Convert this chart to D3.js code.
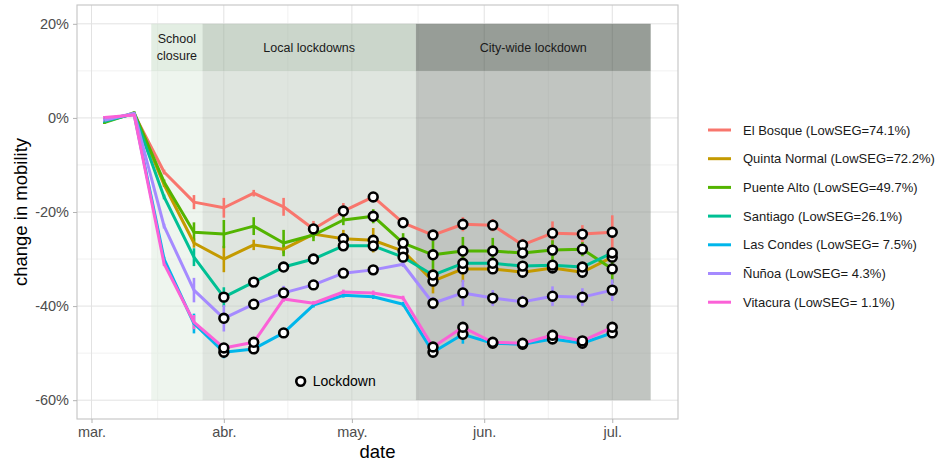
<!DOCTYPE html>
<html>
<head>
<meta charset="utf-8">
<script src="https://cdn.jsdelivr.net/npm/d3@7"></script>
<style>
  body { margin: 0; background: #fff; }
  svg { display: block; font-family: "Liberation Sans", Arial, sans-serif; }
</style>
</head>
<body>
<svg id="chart" width="939" height="463"></svg>
<script>
// Weekly observation dates (2020)
const weeks = ["2020-03-04","2020-03-11","2020-03-18","2020-03-25","2020-04-01","2020-04-08",
  "2020-04-15","2020-04-22","2020-04-29","2020-05-06","2020-05-13","2020-05-20",
  "2020-05-27","2020-06-03","2020-06-10","2020-06-17","2020-06-24","2020-07-01"];

// Communes, legend labels and colours
const communes = ["El Bosque","Quinta Normal","Puente Alto","Santiago","Las Condes","Ñuñoa","Vitacura"];
const lowSEG = ["74.1%","72.2%","49.7%","26.1%"," 7.5%"," 4.3%"," 1.1%"];
const colors = ["#F8766D","#C49A00","#53B400","#00C094","#00B6EB","#A58AFF","#FB61D7"];

// Change in mobility (%) per week
const elBosque     = [-0.3, 0.8, -11.5, -17.9, -19.1, -16.0, -18.9, -23.6, -19.8, -16.8, -22.3, -24.9, -22.6, -22.8, -27.0, -24.5, -24.7, -24.3];
const quintaNormal = [-0.6, 0.9, -14.2, -26.6, -30.0, -27.0, -27.9, -24.7, -25.7, -26.0, -28.3, -34.7, -32.1, -32.1, -32.8, -31.9, -32.8, -29.6];
const puenteAlto   = [-1.0, 1.1, -13.6, -24.3, -24.7, -23.0, -26.6, -24.9, -21.7, -20.9, -26.6, -29.1, -28.3, -28.3, -28.7, -28.1, -27.9, -32.1];
const santiago     = [-0.8, 0.9, -16.8, -29.6, -38.1, -34.9, -31.7, -30.0, -27.2, -27.2, -29.6, -33.4, -30.9, -30.9, -31.5, -31.3, -31.7, -28.7];
const lasCondes    = [-0.2, 0.7, -30.0, -43.7, -49.8, -49.1, -45.7, -39.8, -37.7, -38.0, -39.6, -49.8, -46.0, -47.9, -48.1, -47.0, -47.9, -45.7];
const nunoa        = [-0.5, 1.0, -23.0, -36.6, -42.6, -39.6, -37.2, -35.5, -33.0, -32.3, -31.1, -39.4, -37.2, -38.3, -39.1, -37.9, -38.1, -36.6];
const vitacura     = [ 0.1, 0.6, -31.0, -43.4, -48.9, -47.7, -38.5, -39.4, -37.0, -37.2, -38.3, -48.7, -44.5, -47.7, -47.9, -46.2, -47.4, -44.5];

// Half-width of the uncertainty interval (percentage points)
const elBosqueErr     = [0.3,0.3,0.5,1.5,2.1,0.7,1.9,1.7,1.7,0.8,1.1,0.8,1.5,1.3,1.3,2.5,1.9,3.6];
const quintaNormalErr = [0.3,0.3,0.5,1.0,2.8,1.1,0.9,0.8,1.9,2.6,1.5,2.6,2.8,1.0,0.8,0.8,0.8,0.8];
const puenteAltoErr   = [0.3,0.3,0.5,2.1,3.0,1.9,2.8,1.3,1.1,1.5,2.1,3.0,3.0,2.8,1.0,2.1,1.5,3.0];
const santiagoErr     = [0.3,0.3,0.5,1.9,2.1,0.6,0.6,0.6,0.6,0.6,0.6,0.8,0.8,0.6,0.6,0.6,0.6,0.6];
const lasCondesErr    = [0.3,0.3,0.5,2.1,1.3,0.6,0.6,0.5,0.5,0.5,0.5,0.8,2.0,0.6,0.6,0.6,0.6,0.6];
const nunoaErr        = [0.3,0.3,0.5,2.6,2.8,1.1,1.5,0.6,0.6,0.6,0.6,1.3,2.8,1.7,1.3,2.1,1.9,2.3];
const vitacuraErr     = [0.3,0.3,0.5,1.5,0.8,0.6,0.6,0.5,0.5,0.5,0.5,0.8,0.8,0.6,0.6,0.6,0.6,0.6];

// Weeks (index into `weeks`) in which each commune was under lockdown
const elBosqueLock     = [7,8,9,10,11,12,13,14,15,16,17];
const quintaNormalLock = [8,9,10,11,12,13,14,15,16,17];
const puenteAltoLock   = [9,10,11,12,13,14,15,16,17];
const santiagoLock     = [4,5,6,7,8,9,10,11,12,13,14,15,16,17];
const lasCondesLock    = [4,5,6,11,12,13,14,15,16,17];
const nunoaLock        = [4,5,6,7,8,9,11,12,13,14,15,16,17];
const vitacuraLock     = [4,5,11,12,13,14,15,16,17];

// Policy periods
const periodLabels = [["School","closure"],["Local lockdowns"],["City-wide lockdown"]];
const periodStart  = ["2020-03-15","2020-03-27","2020-05-16"];
const periodEnd    = ["2020-03-27","2020-05-16","2020-07-10"];

// Axis ticks
const monthTicks  = ["2020-03-01","2020-04-01","2020-05-01","2020-06-01","2020-07-01"];
const monthLabels = ["mar.","abr.","may.","jun.","jul."];
const yTicks = [-60,-40,-20,0,20];
const yMinor = [-50,-30,-10,10];

// Lockdown key placed inside the plot
const keyDate = "2020-04-19", keyValue = -56, keyLabel = "Lockdown";

const values = [elBosque, quintaNormal, puenteAlto, santiago, lasCondes, nunoa, vitacura];
const errs   = [elBosqueErr, quintaNormalErr, puenteAltoErr, santiagoErr, lasCondesErr, nunoaErr, vitacuraErr];
const locks  = [elBosqueLock, quintaNormalLock, puenteAltoLock, santiagoLock, lasCondesLock, nunoaLock, vitacuraLock];

const parse = d3.utcParse("%Y-%m-%d");
const dates = weeks.map(parse);

const svg = d3.select("#chart");
const P = { left: 77, right: 678, top: 5, bottom: 419 };

// 5% expansion on both axes
const xMin = dates[0], xMax = parse(periodEnd[2]);
const span = xMax - xMin;
const x = d3.scaleUtc()
  .domain([new Date(+xMin - span * 0.05), new Date(+xMax + span * 0.05)])
  .range([P.left, P.right]);
const y = d3.scaleLinear().domain([-64, 24]).range([P.bottom, P.top]);

// Grid
const grid = svg.append("g");
const minorX = monthTicks.slice(0, -1).map((d, i) =>
  new Date((+parse(d) + +parse(monthTicks[i + 1])) / 2));
grid.selectAll(".ymin").data(yMinor).join("line")
  .attr("x1", P.left).attr("x2", P.right)
  .attr("y1", d => y(d)).attr("y2", d => y(d))
  .attr("stroke", "#f1f1f1").attr("stroke-width", 1);
grid.selectAll(".xmin").data(minorX).join("line")
  .attr("y1", P.top).attr("y2", P.bottom)
  .attr("x1", d => x(d)).attr("x2", d => x(d))
  .attr("stroke", "#f1f1f1").attr("stroke-width", 1);
grid.selectAll(".ymaj").data(yTicks).join("line")
  .attr("x1", P.left).attr("x2", P.right)
  .attr("y1", d => y(d)).attr("y2", d => y(d))
  .attr("stroke", "#e2e2e2").attr("stroke-width", 1);
grid.selectAll(".xmaj").data(monthTicks.map(parse)).join("line")
  .attr("y1", P.top).attr("y2", P.bottom)
  .attr("x1", d => x(d)).attr("x2", d => x(d))
  .attr("stroke", "#e2e2e2").attr("stroke-width", 1);

// Policy period shading
const bodyFill   = ["rgba(221,235,221,0.5)","rgba(191,203,191,0.5)","rgba(131,139,131,0.5)"];
const headerFill = ["rgba(199,221,199,0.5)","rgba(151,173,151,0.5)","rgba(47,59,47,0.5)"];
const shade = svg.append("g");
periodStart.forEach((s, i) => {
  const x0 = x(parse(s)), x1 = x(parse(periodEnd[i]));
  shade.append("rect").attr("x", x0).attr("width", x1 - x0)
    .attr("y", y(10)).attr("height", y(-60) - y(10)).attr("fill", bodyFill[i]);
  shade.append("rect").attr("x", x0).attr("width", x1 - x0)
    .attr("y", y(20)).attr("height", y(10) - y(20)).attr("fill", headerFill[i]);
  const t = shade.append("text").attr("x", (x0 + x1) / 2)
    .attr("text-anchor", "middle").attr("font-size", 12.5).attr("fill", "#1a1a1a");
  const lines = periodLabels[i];
  const mid = (y(20) + y(10)) / 2;
  lines.forEach((ln, k) => {
    t.append("tspan").attr("x", (x0 + x1) / 2)
      .attr("y", mid + (k - (lines.length - 1) / 2) * 17)
      .attr("dy", "0.35em").text(ln);
  });
});

// Uncertainty bars
const marks = svg.append("g");
values.forEach((vals, s) => {
  marks.append("g").selectAll("line").data(vals).join("line")
    .attr("x1", (d, i) => x(dates[i])).attr("x2", (d, i) => x(dates[i]))
    .attr("y1", (d, i) => y(d - errs[s][i])).attr("y2", (d, i) => y(d + errs[s][i]))
    .attr("stroke", colors[s]).attr("stroke-width", 2.6);
});

// Series lines
const line = d3.line().x((d, i) => x(dates[i])).y(d => y(d));
values.forEach((vals, s) => {
  marks.append("path").datum(vals).attr("d", line)
    .attr("fill", "none").attr("stroke", colors[s])
    .attr("stroke-width", 3).attr("stroke-linejoin", "round");
});

// Lockdown markers
values.forEach((vals, s) => {
  marks.append("g").selectAll("circle").data(locks[s]).join("circle")
    .attr("cx", i => x(dates[i])).attr("cy", i => y(vals[i]))
    .attr("r", 4.4).attr("fill", "#fff").attr("stroke", "#000").attr("stroke-width", 2.6);
});

// In-plot key for the markers
svg.append("circle").attr("cx", x(parse(keyDate))).attr("cy", y(keyValue))
  .attr("r", 4.4).attr("fill", "#fff").attr("stroke", "#000").attr("stroke-width", 2.6);
svg.append("text").attr("x", x(parse(keyDate)) + 12).attr("y", y(keyValue))
  .attr("dy", "0.35em").attr("font-size", 14).attr("fill", "#000").text(keyLabel);

// Panel border
svg.append("rect").attr("x", P.left).attr("y", P.top)
  .attr("width", P.right - P.left).attr("height", P.bottom - P.top)
  .attr("fill", "none").attr("stroke", "#c4c4c4").attr("stroke-width", 1.1);

// Axes
const xAxis = svg.append("g").attr("transform", `translate(0,${P.bottom})`)
  .call(d3.axisBottom(x).tickValues(monthTicks.map(parse))
    .tickFormat((d, i) => monthLabels[i]).tickSize(4).tickSizeOuter(0).tickPadding(4));
xAxis.select(".domain").remove();
xAxis.selectAll("line").attr("stroke", "#b3b3b3");
xAxis.selectAll("text").attr("font-size", 14.5).attr("fill", "#4d4d4d")
  .attr("font-family", "Liberation Sans, Arial, sans-serif");

const yAxis = svg.append("g").attr("transform", `translate(${P.left},0)`)
  .call(d3.axisLeft(y).tickValues(yTicks).tickFormat(d => d + "%")
    .tickSize(4).tickSizeOuter(0).tickPadding(4));
yAxis.select(".domain").remove();
yAxis.selectAll("line").attr("stroke", "#b3b3b3");
yAxis.selectAll("text").attr("font-size", 14.5).attr("fill", "#4d4d4d")
  .attr("font-family", "Liberation Sans, Arial, sans-serif");

svg.append("text").attr("x", (P.left + P.right) / 2).attr("y", 458)
  .attr("text-anchor", "middle").attr("font-size", 18.5).attr("fill", "#000").text("date");
svg.append("text")
  .attr("transform", `translate(27,${(P.top + P.bottom) / 2}) rotate(-90)`)
  .attr("text-anchor", "middle").attr("font-size", 18.5).attr("fill", "#000")
  .text("change in mobility");

// Legend
const legend = svg.append("g");
communes.forEach((c, i) => {
  const ly = 130 + i * 28.7;
  legend.append("line").attr("x1", 708).attr("x2", 731).attr("y1", ly).attr("y2", ly)
    .attr("stroke", colors[i]).attr("stroke-width", 3);
  legend.append("text").attr("x", 743).attr("y", ly).attr("dy", "0.35em")
    .attr("font-size", 13).attr("fill", "#1a1a1a")
    .text(`${c} (LowSEG=${lowSEG[i]})`);
});
</script>
</body>
</html>
